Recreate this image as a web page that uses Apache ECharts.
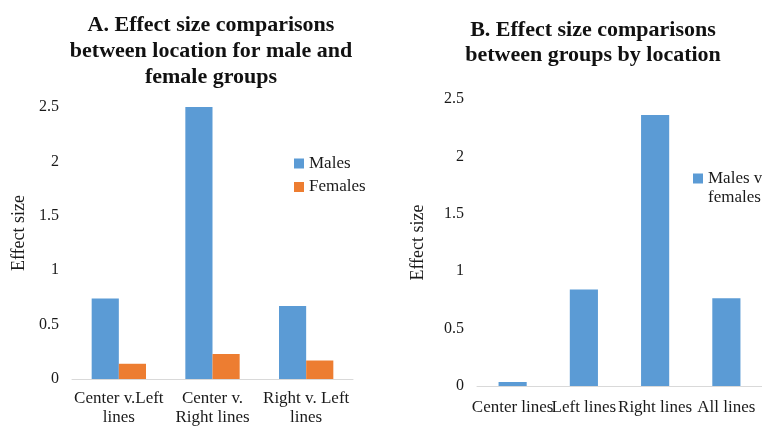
<!DOCTYPE html>
<html>
<head>
<meta charset="utf-8">
<script src="https://cdn.jsdelivr.net/npm/echarts@6/dist/echarts.min.js"></script>
<style>
html,body{margin:0;padding:0;background:#fff;}
#chart{width:762px;height:427px;}
</style>
</head>
<body>
<div id="chart"></div>
<script>
var categoriesA = ["Center v.Left\nlines", "Center v.\nRight lines", "Right v. Left\nlines"];
var malesA = [0.74, 2.5, 0.67];
var femalesA = [0.14, 0.23, 0.17];
var categoriesB = ["Center lines", "Left lines", "Right lines", "All lines"];
var malesVsFemalesB = [0.035, 0.84, 2.36, 0.765];
var yTicks = [0, 0.5, 1, 1.5, 2, 2.5];

var FONT = "'Liberation Serif', 'Times New Roman', serif";
var TXT = '#1a1a1a';
var chart = echarts.init(document.getElementById('chart'), null, {renderer: 'canvas'});

function yAxis(gridIndex, nameGap, namePad) {
  return {
    type: 'value', gridIndex: gridIndex, min: yTicks[0], max: yTicks[yTicks.length - 1], interval: 0.5,
    name: 'Effect size', nameLocation: 'middle', nameGap: nameGap, nameRotate: 90,
    nameTextStyle: {fontFamily: FONT, fontSize: 18, color: TXT, padding: namePad},
    axisLine: {show: false}, axisTick: {show: false}, splitLine: {show: false},
    axisLabel: {fontFamily: FONT, fontSize: 16, color: TXT, margin: 13}
  };
}

chart.setOption({
  animation: false,
  backgroundColor: '#fff',
  title: [
    {text: 'A. Effect size comparisons\nbetween location for male and\nfemale groups', left: 206, top: 7, textAlign: 'center',
     textStyle: {fontFamily: FONT, fontSize: 22, fontWeight: 'bold', color: '#111', lineHeight: 26}},
    {text: 'B. Effect size comparisons\nbetween groups by location', left: 588, top: 13, textAlign: 'center',
     textStyle: {fontFamily: FONT, fontSize: 22, fontWeight: 'bold', color: '#111', lineHeight: 25}}
  ],
  legend: [
    {data: ['Males', 'Females'], orient: 'vertical', left: 294, top: 155, padding: 0, itemWidth: 10, itemHeight: 10, itemGap: 6.5,
     itemTextGap: 2, icon: 'rect', textStyle: {fontFamily: FONT, fontSize: 17, color: TXT, lineHeight: 17}},
    {data: ['Males vs females'], orient: 'vertical', left: 693, top: 150, padding: 0, itemWidth: 10, itemHeight: 10,
     itemTextGap: 1, icon: 'rect',
     formatter: function () { return '\nMales vs\nfemales'; },
     textStyle: {fontFamily: FONT, fontSize: 17, color: TXT, lineHeight: 19}}
  ],
  grid: [
    {left: 72, top: 107, width: 281, height: 275},
    {left: 477, top: 99, right: 0, height: 287}
  ],
  xAxis: [
    {type: 'category', gridIndex: 0, data: categoriesA,
     axisLine: {lineStyle: {color: '#d9d9d9', width: 1}}, axisTick: {show: false},
     axisLabel: {fontFamily: FONT, fontSize: 17, color: TXT, lineHeight: 19, margin: 10, interval: 0}},
    {type: 'category', gridIndex: 1, data: categoriesB,
     axisLine: {lineStyle: {color: '#d9d9d9', width: 1}}, axisTick: {show: false},
     axisLabel: {fontFamily: FONT, fontSize: 17, color: TXT, lineHeight: 19, margin: 12, interval: 0}}
  ],
  yAxis: [yAxis(0, 44, [0, 0, 0, 20]), yAxis(1, 50, 0)],
  series: [
    {name: 'Males', type: 'bar', xAxisIndex: 0, yAxisIndex: 0, data: malesA, barGap: '0%', barCategoryGap: '42%',
     itemStyle: {color: '#5B9BD5'}},
    {name: 'Females', type: 'bar', xAxisIndex: 0, yAxisIndex: 0, data: femalesA, barGap: '0%', barCategoryGap: '42%',
     itemStyle: {color: '#ED7D31'}},
    {name: 'Males vs females', type: 'bar', xAxisIndex: 1, yAxisIndex: 1, data: malesVsFemalesB, barCategoryGap: '60.5%',
     itemStyle: {color: '#5B9BD5'}}
  ]
});
</script>
</body>
</html>
